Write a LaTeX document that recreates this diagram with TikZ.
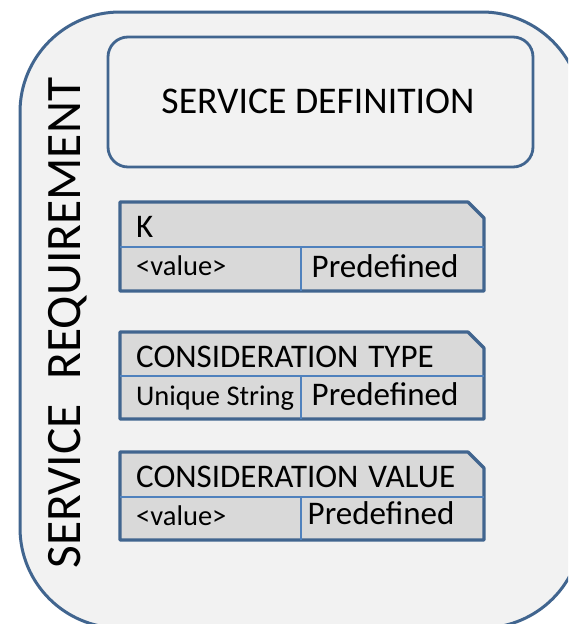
\documentclass[tikz,border=0pt]{standalone}
\usepackage{fontspec}
\setmainfont{Carlito}
\definecolor{frame}{HTML}{41658F}
\definecolor{divider}{HTML}{4F81BD}
\definecolor{bg}{HTML}{F2F2F2}
\definecolor{cell}{HTML}{D9D9D9}
\tikzset{
  outerbox/.style={draw=frame, line width=3pt, fill=bg, rounded corners=100pt},
  defbox/.style={draw=frame, line width=2.8pt, fill=bg, rounded corners=20pt},
  tablebox/.style={draw=frame, line width=3.2pt, fill=cell, line join=round},
  divline/.style={draw=divider, line width=1.4pt},
  titletext/.style={anchor=base west, inner sep=0pt, font=\fontsize{33}{33}\selectfont},
  smalltext/.style={anchor=base west, inner sep=0pt, font=\fontsize{28.5}{28.5}\selectfont},
  predtext/.style={anchor=base, inner sep=0pt, font=\fontsize{33}{33}\selectfont},
}
\newcommand\clipbox[4]{% top, divider y, bottom, prefix
  \path[tablebox] (120,#1) -- (468,#1) -- (484,#1+16) -- (484,#3) -- (120,#3) -- cycle;
  \draw[divline] (120,#2) -- (484,#2);
  \draw[divline] (301,#2) -- (301,#3);
}
\begin{document}
\begin{tikzpicture}[x=1pt,y=-1pt]
\useasboundingbox (0,0) rectangle (568,624);
\clip (0,0) rectangle (568,624);
\fill[white] (0,0) rectangle (568,624);
\path[outerbox] (20,12) rectangle (582,628);
\path[defbox] (108,37) rectangle (533,167);
\node[inner sep=0pt, font=\fontsize{37.7}{37.7}\selectfont] (sd) at (318,101) {SERVICE DEFINITION};
\node[rotate=90, inner sep=0pt, font=\fontsize{49.5}{49.5}\selectfont] (sr) at (68,323) {SERVICE\hspace{0.5em}REQUIREMENT};
% box 1
\clipbox{202}{247}{291}{a}
\node[titletext] (k) at (136,237) {K};
\node[smalltext] (v1) at (136,275) {<value>};
\node[predtext] (p1) at (385,277) {Predefined};
% box 2
\clipbox{332}{376}{419}{b}
\node[titletext] (ct) at (136,367) {CONSIDERATION\hspace{0.3em}TYPE};
\node[smalltext] (us) at (136,405) {Unique String};
\node[predtext] (p2) at (385,405) {Predefined};
% box 3
\clipbox{452}{497}{540}{c}
\node[titletext] (cv) at (136,487) {CONSIDERATION\hspace{0.3em}VALUE};
\node[smalltext] (v3) at (136,525) {<value>};
\node[predtext] (p3) at (381,524) {Predefined};
\end{tikzpicture}
\end{document}
